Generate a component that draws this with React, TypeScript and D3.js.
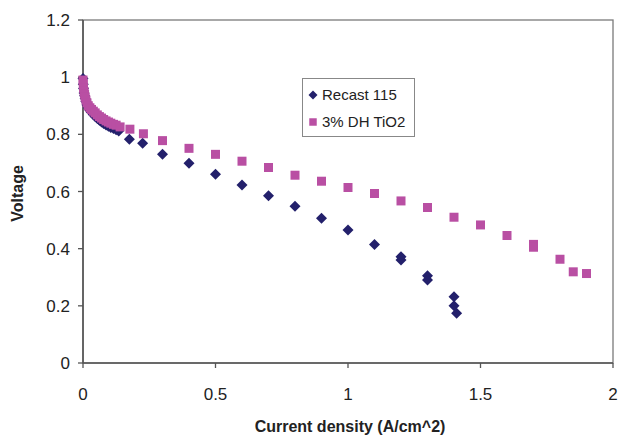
import React from "react";
import * as d3 from "d3";

// Recast 115 (blue diamonds)
const recastX = [
  0.0, 0.001, 0.002, 0.004, 0.006, 0.008, 0.011, 0.015, 0.02, 0.026, 0.032, 0.039, 0.046, 0.054,
  0.062, 0.07, 0.078, 0.087, 0.096, 0.105, 0.115, 0.125, 0.135,
  0.175, 0.225, 0.3, 0.4, 0.5, 0.6, 0.7, 0.8, 0.9, 1.0, 1.1, 1.2, 1.2, 1.3, 1.3, 1.4, 1.4, 1.41,
];
const recastV = [
  0.995, 0.975, 0.96, 0.945, 0.935, 0.925, 0.915, 0.903, 0.893, 0.884, 0.876, 0.869, 0.862, 0.855,
  0.849, 0.843, 0.838, 0.833, 0.828, 0.824, 0.82, 0.816, 0.812,
  0.783, 0.769, 0.73, 0.699, 0.66, 0.623, 0.585, 0.548, 0.506, 0.465, 0.415, 0.372, 0.36, 0.305, 0.29, 0.232, 0.2, 0.174,
];

// 3% DH TiO2 (pink squares)
const tioX = [
  0.0, 0.001, 0.002, 0.004, 0.006, 0.008, 0.011, 0.015, 0.02, 0.026, 0.032, 0.039, 0.046, 0.054,
  0.062, 0.07, 0.078, 0.087, 0.096, 0.105, 0.115, 0.125, 0.14,
  0.177, 0.228, 0.3, 0.4, 0.5, 0.6, 0.7, 0.8, 0.9, 1.0, 1.1, 1.2, 1.3, 1.4, 1.5, 1.6, 1.7, 1.7, 1.8, 1.85, 1.9,
];
const tioV = [
  0.99, 0.975, 0.962, 0.95, 0.94, 0.93, 0.92, 0.91, 0.9, 0.893, 0.887, 0.881, 0.875, 0.868,
  0.862, 0.857, 0.852, 0.847, 0.843, 0.839, 0.835, 0.832, 0.826,
  0.818, 0.802, 0.778, 0.751, 0.73, 0.706, 0.684, 0.657, 0.636, 0.614, 0.593, 0.567, 0.544, 0.51, 0.483, 0.446, 0.415, 0.405, 0.363, 0.319, 0.313,
];

const xTicks = [0, 0.5, 1, 1.5, 2];
const yTicks = [0, 0.2, 0.4, 0.6, 0.8, 1, 1.2];
const seriesNames = ["Recast 115", "3% DH TiO2"];

const W = 620;
const H = 438;
const left = 83;
const right = 613;
const top = 20;
const bottom = 363;

const BLUE = "#23206b";
const PINK = "#b94fa3";
const FONT = "Arial, 'Liberation Sans', sans-serif";

const diamond = (r: number) => `M0,${-r}L${r},0L0,${r}L${-r},0Z`;

export default function App() {
  const x = d3.scaleLinear().domain([0, 2]).range([left, right]);
  const y = d3.scaleLinear().domain([0, 1.2]).range([bottom, top]);
  const sq = d3.symbol().type(d3.symbolSquare).size(81)() as string;

  const recast = recastX.map((v, i) => [v, recastV[i]]);
  const tio = tioX.map((v, i) => [v, tioV[i]]);

  return (
    <svg
      width={W}
      height={H}
      style={{ position: "absolute", left: 0, top: 0, background: "#fff" }}
      fontFamily={FONT}
    >
      <rect x={0} y={0} width={W} height={H} fill="#fff" />
      {/* plot border */}
      <rect x={left} y={top} width={right - left} height={bottom - top} fill="none" stroke="#7a7a7a" strokeWidth={1.3} />
      {/* axes */}
      <line x1={left} y1={top} x2={left} y2={bottom} stroke="#555" strokeWidth={1.6} />
      <line x1={left} y1={bottom} x2={right} y2={bottom} stroke="#555" strokeWidth={1.6} />
      {yTicks.map((t) => (
        <g key={"y" + t}>
          <line x1={left - 5} x2={left} y1={y(t)} y2={y(t)} stroke="#555" strokeWidth={1.3} />
          <text x={70} y={y(t)} dy="0.36em" textAnchor="end" fontSize={17} fill="#222">
            {String(t)}
          </text>
        </g>
      ))}
      {xTicks.map((t) => (
        <g key={"x" + t}>
          <line x1={x(t)} x2={x(t)} y1={bottom} y2={bottom + 5} stroke="#555" strokeWidth={1.3} />
          <text x={x(t)} y={400} textAnchor="middle" fontSize={17} fill="#222">
            {String(t)}
          </text>
        </g>
      ))}
      <text x={(left + right) / 2 + 2} y={432} textAnchor="middle" fontSize={16} fontWeight="bold" fill="#222">
        Current density (A/cm^2)
      </text>
      <text
        transform={`translate(23,${(top + bottom) / 2 + 2}) rotate(-90)`}
        textAnchor="middle"
        fontSize={16}
        fontWeight="bold"
        fill="#222"
      >
        Voltage
      </text>
      {/* series */}
      <g>
        {recast.map((p, i) => (
          <path key={"r" + i} d={diamond(5.5)} transform={`translate(${x(p[0])},${y(p[1])})`} fill={BLUE} />
        ))}
      </g>
      <g>
        {tio.map((p, i) => (
          <path key={"t" + i} d={sq} transform={`translate(${x(p[0])},${y(p[1])})`} fill={PINK} />
        ))}
      </g>
      {/* legend */}
      <rect x={302.5} y={78.5} width={112} height={58} fill="#fff" stroke="#888" strokeWidth={1} />
      <path d={diamond(4.5)} transform="translate(313,95)" fill={BLUE} />
      <text x={322} y={100} fontSize={15} fill="#222">
        {seriesNames[0]}
      </text>
      <path d={d3.symbol().type(d3.symbolSquare).size(56)() as string} transform="translate(313,122)" fill={PINK} />
      <text x={322} y={127} fontSize={15} fill="#222">
        {seriesNames[1]}
      </text>
    </svg>
  );
}
